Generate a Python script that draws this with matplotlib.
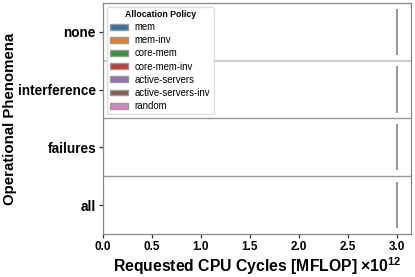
import matplotlib
matplotlib.use("Agg")
import matplotlib.pyplot as plt
import matplotlib.patches as mpatches
import numpy as np

plt.rcParams['font.family'] = ['Liberation Sans', 'DejaVu Sans']
plt.rcParams['mathtext.fontset'] = 'custom'
plt.rcParams['mathtext.rm'] = 'Liberation Sans'
plt.rcParams['mathtext.bf'] = 'Liberation Sans:bold'

phenomena = ["none", "interference", "failures", "all"]
policies = ["mem", "mem-inv", "core-mem", "core-mem-inv",
            "active-servers", "active-servers-inv", "random"]
colors = ["#3274a1", "#e1812c", "#3a923a", "#c03d3e",
          "#9372b2", "#845b53", "#d684bd"]
# Requested CPU cycles (MFLOP) per phenomenon per policy -- identical workload
values = {
    "none":         [3.0e12] * 7,
    "interference": [3.0e12] * 7,
    "failures":     [3.0e12] * 7,
    "all":          [3.0e12] * 7,
}

fig = plt.figure(figsize=(4.15, 2.77), dpi=100)
ax = fig.add_axes([0.248, 0.155, 0.743, 0.835])

n = len(policies)
total_w = 0.8
w = total_w / n
for i, ph in enumerate(phenomena):
    for j, pol in enumerate(policies):
        pos = i - total_w / 2 + w * (j + 0.5)
        ax.boxplot([[values[ph][j]]], positions=[pos], widths=w, vert=False,
                   patch_artist=True, showfliers=False, manage_ticks=False,
                   boxprops=dict(facecolor=colors[j], edgecolor="#999999", linewidth=1.3),
                   medianprops=dict(color="#999999", linewidth=1.3),
                   whiskerprops=dict(color="#999999", linewidth=1.3),
                   capprops=dict(color="#999999", linewidth=1.3))

for k, yv in enumerate([0.5, 1.5, 2.5]):
    ax.axhline(yv, color="#cccccc" if k == 0 else "#999999",
               lw=1.6 if k == 0 else 1.0, zorder=0.5)

ax.set_yticks(range(len(phenomena)))
ax.set_yticklabels(phenomena, fontsize=9.8, fontweight="bold")
ax.set_ylim(len(phenomena) - 0.5, -0.5)
ax.set_xlim(0, 3.15e12)
ax.set_xticks(np.arange(0, 3.01e12, 0.5e12))
ax.set_xticklabels([f"{v:.1f}" for v in np.arange(0, 3.01, 0.5)],
                   fontsize=8.5, fontweight="bold")
ax.set_xlabel(r"Requested CPU Cycles [MFLOP] ×10$^{\mathbf{12}}$",
              fontsize=11.3, fontweight="bold", labelpad=1.5)
ax.set_ylabel("Operational Phenomena", fontsize=10.8, fontweight="bold")
ax.yaxis.set_label_coords(-0.278, 0.5)

for s in ax.spines.values():
    s.set_color("#888888")
    s.set_linewidth(0.9)
ax.tick_params(axis="both", length=3, width=0.9, color="#333333", pad=2)

handles = [mpatches.Patch(facecolor=c, edgecolor="#999999", linewidth=1.0, label=p)
           for p, c in zip(policies, colors)]
leg = ax.legend(handles=handles, title="Allocation Policy", loc="upper left",
                fontsize=6.9, title_fontproperties={"weight": "bold", "size": 6.3},
                frameon=True, handlelength=1.9, handleheight=0.55,
                labelspacing=0.33, borderpad=0.35, handletextpad=0.65,
                borderaxespad=0.4, bbox_to_anchor=(0.0, 1.0))
leg.get_frame().set_edgecolor("#dddddd")
leg.get_frame().set_alpha(1.0)

fig.savefig("out.png", dpi=100)
